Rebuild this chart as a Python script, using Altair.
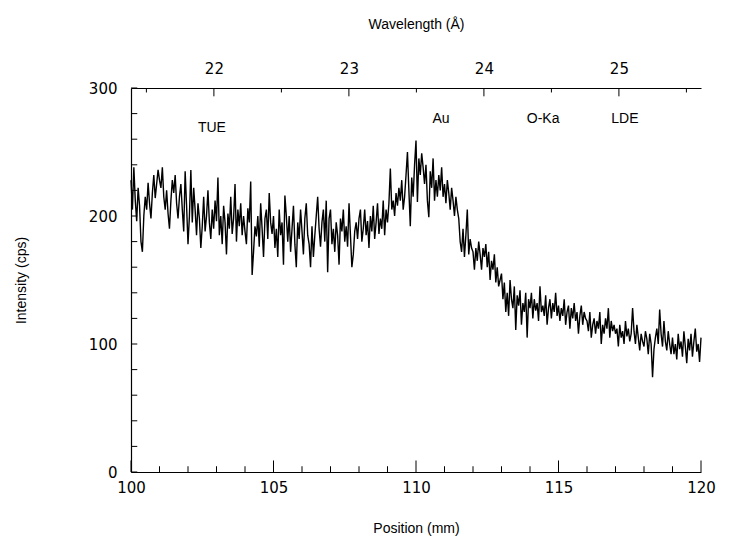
import altair as alt
import pandas as pd

# ---- spectrum data (intensity in cps, one value every 0.05 mm from 100 mm) ----
seg100 = [228, 205, 238, 212, 196, 222, 208, 180, 172, 200, 215, 205, 226, 210, 198, 218, 232, 214, 225, 236]
seg101 = [228, 222, 238, 215, 205, 220, 202, 190, 212, 228, 218, 232, 210, 198, 215, 225, 205, 188, 235, 208]
seg102 = [178, 200, 236, 195, 222, 205, 185, 210, 198, 175, 192, 215, 188, 200, 220, 195, 182, 205, 190, 212]
seg103 = [196, 230, 185, 200, 178, 208, 195, 170, 202, 190, 215, 186, 198, 225, 180, 205, 192, 210, 185, 200]
seg104 = [188, 178, 206, 195, 227, 154, 172, 192, 184, 200, 176, 210, 190, 168, 198, 205, 182, 218, 195, 186]
seg105 = [200, 175, 190, 168, 205, 185, 195, 162, 216, 200, 180, 200, 172, 190, 208, 178, 160, 195, 182, 205]
seg106 = [188, 170, 198, 210, 185, 178, 160, 192, 168, 185, 200, 215, 190, 176, 195, 205, 180, 212, 156, 198]
seg107 = [205, 178, 190, 172, 195, 185, 162, 198, 188, 205, 180, 192, 176, 210, 185, 160, 170, 188, 195, 182]
seg108 = [198, 205, 180, 190, 205, 185, 196, 175, 200, 188, 208, 182, 195, 210, 186, 198, 190, 212, 185, 205]
seg109 = [195, 210, 237, 205, 212, 200, 218, 208, 222, 212, 228, 205, 215, 232, 250, 220, 192, 230, 215, 240]
seg110 = [259, 211, 245, 232, 249, 238, 225, 240, 212, 199, 235, 222, 245, 212, 228, 215, 232, 220, 238, 215]
seg111 = [225, 210, 228, 218, 205, 222, 212, 200, 215, 205, 198, 180, 172, 190, 168, 185, 205, 170, 182, 175]
seg112 = [172, 158, 175, 165, 180, 170, 158, 175, 168, 178, 160, 172, 150, 165, 158, 170, 148, 160, 145, 150]
seg113 = [155, 135, 148, 125, 140, 122, 150, 135, 128, 145, 111, 138, 130, 142, 115, 132, 125, 140, 105, 135]
seg114 = [128, 140, 120, 135, 126, 132, 118, 145, 125, 130, 122, 138, 115, 128, 135, 120, 132, 125, 140, 122]
seg115 = [130, 118, 128, 122, 135, 115, 125, 130, 112, 128, 120, 132, 118, 125, 108, 122, 130, 115, 125, 120]
seg116 = [118, 110, 125, 105, 115, 120, 108, 118, 112, 125, 100, 115, 108, 120, 112, 128, 105, 118, 110, 115]
seg117 = [108, 112, 98, 115, 105, 110, 100, 118, 106, 112, 102, 108, 128, 110, 100, 115, 105, 95, 108, 102]
seg118 = [98, 110, 104, 92, 108, 100, 74, 96, 105, 112, 100, 127, 108, 98, 118, 102, 95, 110, 100, 92]
seg119 = [105, 92, 100, 88, 108, 96, 102, 90, 110, 98, 85, 104, 95, 108, 90, 102, 112, 94, 100, 86]
seg120 = [105]

segments = [seg100, seg101, seg102, seg103, seg104, seg105, seg106, seg107, seg108, seg109,
            seg110, seg111, seg112, seg113, seg114, seg115, seg116, seg117, seg118, seg119, seg120]
intensity = [v for s in segments for v in s]
position = [round(100 + 0.05 * i, 2) for i in range(len(intensity))]

# ---- axes ----
pos_domain = [100, 120]
pos_labels = [100, 105, 110, 115, 120]
pos_ticks = list(range(100, 121))
int_domain = [0, 300]
int_labels = [0, 100, 200, 300]
int_ticks = list(range(0, 301, 20))
wl_domain = [21.386, 25.608]
wl_labels = [22, 23, 24, 25]
wl_ticks = [21.5, 22, 22.5, 23, 23.5, 24, 24.5, 25, 25.5]

# ---- annotations ----
ann_text = ["TUE", "Au", "O-Ka", "LDE"]
ann_pos = [102.84, 110.88, 114.46, 117.33]
ann_int = [269, 276, 276, 276]

df = pd.DataFrame({"pos": position, "int": intensity})
df_xt = pd.DataFrame({"pos": pos_ticks})
df_yt = pd.DataFrame({"int": int_ticks})
df_wt = pd.DataFrame({"wl": wl_ticks})
df_ann = pd.DataFrame({"pos": ann_pos, "int": ann_int, "label": ann_text})

x_scale = alt.Scale(domain=pos_domain, nice=False, zero=False)
y_scale = alt.Scale(domain=int_domain, nice=False, zero=True)
wl_scale = alt.Scale(domain=wl_domain, nice=False, zero=False)

x_axis = alt.Axis(values=pos_labels, title="Position (mm)", format="d",
                  labelPadding=8, titlePadding=26, labelFlush=False)
y_axis = alt.Axis(values=int_labels, title="Intensity (cps)", format="d",
                  labelPadding=14, titlePadding=60, labelFlush=False)
wl_axis = alt.Axis(orient="top", values=wl_labels, title="Wavelength (Å)", format="d",
                   labelPadding=12, titlePadding=30, labelFlush=False)

X = alt.X("pos:Q", scale=x_scale, axis=x_axis)
Y = alt.Y("int:Q", scale=y_scale, axis=y_axis)

line = alt.Chart(df).mark_line(color="black", strokeWidth=1.4).encode(x=X, y=Y)

bottom_ticks = alt.Chart(df_xt).transform_calculate(
    int="0", int2="datum.pos % 5 == 0 ? 9 : 4.5"
).mark_rule(color="black", strokeWidth=1).encode(x=X, y=Y, y2="int2:Q")

left_ticks = alt.Chart(df_yt).transform_calculate(
    pos="100", pos2="100.22"
).mark_rule(color="black", strokeWidth=1).encode(x=X, x2="pos2:Q", y=Y)

labels = alt.Chart(df_ann).mark_text(
    font="Liberation Sans", fontSize=14, color="black"
).encode(x=X, y=Y, text="label:N")

top_ticks = alt.Chart(df_wt).transform_calculate(
    int="300", int2="datum.wl % 1 == 0 ? 293.5 : 296.5"
).mark_rule(color="black", strokeWidth=1).encode(
    x=alt.X("wl:Q", scale=wl_scale, axis=wl_axis), y=Y, y2="int2:Q"
)

inner = alt.layer(line, bottom_ticks, left_ticks, labels)

chart = alt.layer(inner, top_ticks).resolve_scale(x="independent").properties(
    width=570, height=384,
    padding={"left": 123, "top": 80, "right": 20, "bottom": 72},
    autosize=alt.AutoSizeParams(type="none"),
    background="white",
).configure_view(stroke=None).configure_axis(
    grid=False, ticks=False,
    domainColor="black", domainWidth=1.2,
    labelFont="DejaVu Sans", labelFontSize=15, labelColor="black",
    titleFont="Liberation Sans", titleFontSize=14, titleFontWeight="normal",
    titleColor="black",
)

chart.save("out.html", embed_options={"renderer": "svg", "actions": False})
